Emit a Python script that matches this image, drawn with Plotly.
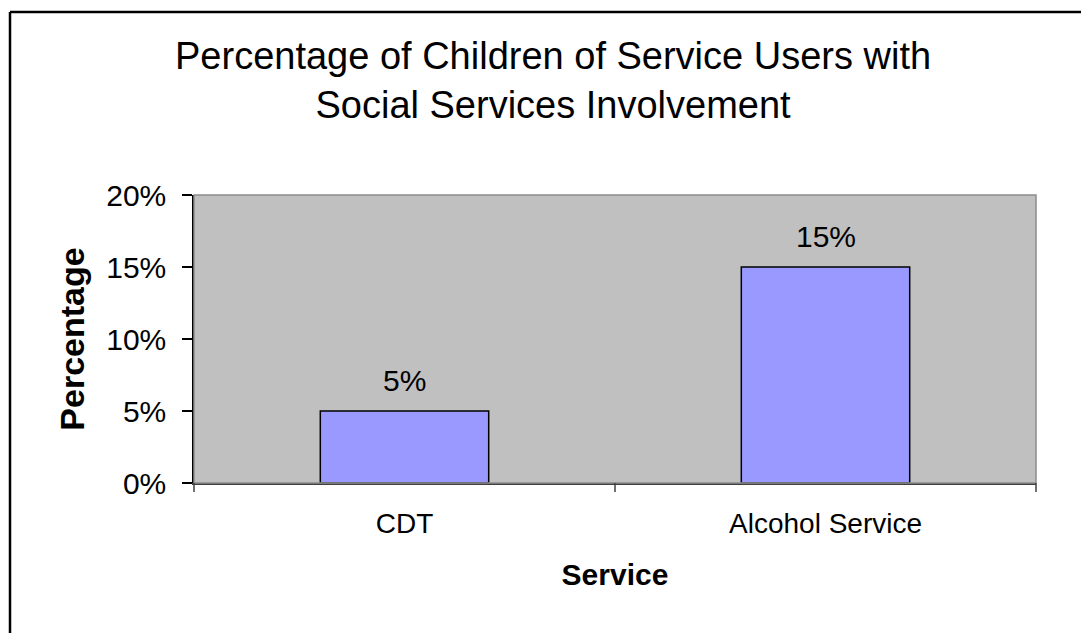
import plotly.graph_objects as go

# Chart data
services = ["CDT", "Alcohol Service"]
percentages = [5, 15]
y_ticks = [0, 5, 10, 15, 20]
y_tick_labels = ["0%", "5%", "10%", "15%", "20%"]

W, H = 1081, 633
L, R, T, B = 194, 45, 195, 150
pw, ph = W - L - R, H - T - B


def px_to_paper(x, y):
    return (x - L) / pw, (H - B - y) / ph


FONT = "Liberation Sans, Arial, sans-serif"

fig = go.Figure(
    go.Bar(
        x=services,
        y=percentages,
        width=0.4,
        marker=dict(color="#9999FF", line=dict(color="#000000", width=1.5)),
        cliponaxis=False,
    )
)

# Value labels above each bar
for svc, val in zip(services, percentages):
    fig.add_annotation(
        x=svc, y=val, xref="x", yref="y", text=f"{val}%", showarrow=False,
        xanchor="center", yanchor="bottom", yshift=12,
        font=dict(family=FONT, size=30, color="#000000"),
    )

# Outer frame (left and top edges)
fx0, fy0 = px_to_paper(10, 12)
fx1, _ = px_to_paper(W + 5, 12)
_, fy1 = px_to_paper(10, H + 5)
fig.add_shape(type="line", xref="paper", yref="paper", x0=fx0, y0=fy1, x1=fx0, y1=fy0,
              line=dict(color="#000000", width=2.5))
fig.add_shape(type="line", xref="paper", yref="paper", x0=fx0, y0=fy0, x1=fx1, y1=fy0,
              line=dict(color="#000000", width=2.5))
# Plot area border
fig.add_shape(type="rect", xref="paper", yref="paper", x0=0, y0=0, x1=1, y1=1,
              line=dict(color="#8c8c8c", width=1.5), layer="above")

tx, ty = px_to_paper(553, 80)
fig.add_annotation(
    text="Percentage of Children of Service Users with<br>Social Services Involvement",
    xref="paper", yref="paper", x=tx, y=ty, xanchor="center", yanchor="middle",
    showarrow=False,
    font=dict(family=FONT, size=38, color="#000000"), align="center",
)

fig.update_layout(
    width=W, height=H,
    margin=dict(l=L, r=R, t=T, b=B),
    paper_bgcolor="#ffffff",
    plot_bgcolor="#C0C0C0",
    showlegend=False,
    font=dict(family=FONT, color="#000000"),
    bargap=0.6,
)

fig.update_xaxes(
    showgrid=False, showline=True, linecolor="#404040", linewidth=1.5,
    ticks="", tickfont=dict(family=FONT, size=28), ticklabelstandoff=15,
    title=dict(text="<b>Service</b>", font=dict(family=FONT, size=30), standoff=26),
)
fig.update_yaxes(
    range=[0, 20], tickvals=y_ticks, ticktext=y_tick_labels,
    showgrid=False, zeroline=False, showline=True, linecolor="#000000", linewidth=1.5,
    ticks="outside", ticklen=10, tickcolor="#000000", tickwidth=1.5,
    tickfont=dict(family=FONT, size=30), ticklabelstandoff=10,
    title=dict(text="<b>Percentage</b>", font=dict(family=FONT, size=34), standoff=11),
)

# Category boundary ticks on the x axis
for xb in [0, 0.5, 1]:
    fig.add_shape(type="line", xref="paper", yref="paper", x0=xb, x1=xb, y0=0, y1=-9 / ph,
                  line=dict(color="#404040", width=1.5))

fig.write_html("out.html")
